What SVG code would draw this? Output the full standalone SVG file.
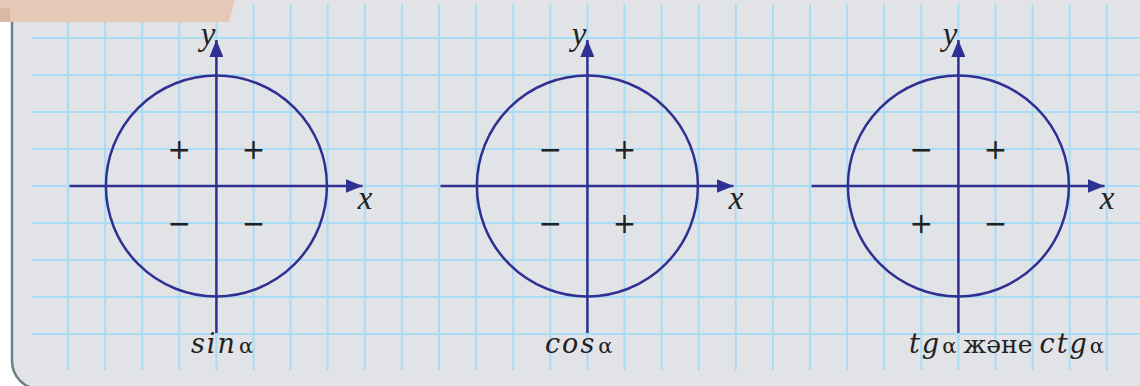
<svg xmlns="http://www.w3.org/2000/svg" width="1140" height="386" viewBox="0 0 1140 386">
<defs>
<style>
.grid{stroke:#a8dcf5;stroke-width:2;fill:none}
.ax{stroke:#2e3192;stroke-width:2.5;fill:none}
.circ{stroke:#2e3192;stroke-width:2.5;fill:none}
.sign{font-family:"DejaVu Sans",sans-serif;font-size:28px;fill:#222;text-anchor:middle}
.axl{font-family:"Liberation Serif",serif;font-style:italic;font-size:33px;fill:#222;text-anchor:middle}
.lbl{font-family:"DejaVu Serif",serif;font-size:25px;fill:#222}
.it{font-style:italic;font-size:27px;letter-spacing:2px}
.al{font-size:21px}
</style>
<marker id="arr" markerUnits="userSpaceOnUse" markerWidth="18" markerHeight="14" refX="17" refY="7" orient="auto" viewBox="0 0 18 14">
<path d="M0,0 L17,7 L0,14 z" fill="#2e3192"/>
</marker>
</defs>
<rect x="0" y="0" width="1140" height="386" fill="#ffffff"/>
<rect x="12" y="-20" width="1160" height="409" rx="28" fill="#e2e3e7" stroke="#6f8088" stroke-width="2.5"/>
<g id="grid" class="grid">
<path d="M32,38H1140M32,75H1140M32,112H1140M32,149H1140M32,186H1140M32,223H1140M32,260H1140M32,297H1140M32,334H1140"/>
<path d="M68,4V370M105.1,4V370M142.2,4V370M179.3,4V370M216.4,4V370M253.5,4V370M290.6,4V370M327.7,4V370M364.8,4V370M401.9,4V370M439,4V370M476.1,4V370M513.2,4V370M550.3,4V370M587.4,4V370M624.5,4V370M661.6,4V370M698.7,4V370M735.8,4V370M772.9,4V370M810,4V370M847.1,4V370M884.2,4V370M921.3,4V370M958.4,4V370M995.5,4V370M1032.6,4V370M1069.7,4V370M1106.8,4V370"/>
</g>
<g id="tab">
<polygon points="0,0 235,0 229,22 0,22" fill="#e6c9b7"/>
<polygon points="0,8 10,8 10,22 0,22" fill="#d9b8a6"/>
</g>
<g id="connectors">
<line class="ax" x1="69.5" y1="186" x2="362.5" y2="186" marker-end="url(#arr)"/>
<line class="ax" x1="216.4" y1="333" x2="216.4" y2="40" marker-end="url(#arr)"/>
<line class="ax" x1="440.5" y1="186" x2="733.5" y2="186" marker-end="url(#arr)"/>
<line class="ax" x1="587.4" y1="333" x2="587.4" y2="40" marker-end="url(#arr)"/>
<line class="ax" x1="811.5" y1="186" x2="1104.5" y2="186" marker-end="url(#arr)"/>
<line class="ax" x1="958.4" y1="333" x2="958.4" y2="40" marker-end="url(#arr)"/>
</g>
<g id="sin-diagram">
<circle class="circ" cx="216.4" cy="186" r="110.5"/>
<text class="axl" x="365" y="209">x</text>
<text class="axl" x="208" y="45">y</text>
<text class="sign" x="179.3" y="158.5">+</text>
<text class="sign" x="253.5" y="158.5">+</text>
<text class="sign" x="179.3" y="232.5">−</text>
<text class="sign" x="253.5" y="232.5">−</text>
<text class="lbl" x="191" y="353"><tspan class="it">sin</tspan><tspan class="al" dx="2">α</tspan></text>
</g>
<g id="cos-diagram">
<circle class="circ" cx="587.4" cy="186" r="110.5"/>
<text class="axl" x="736" y="209">x</text>
<text class="axl" x="579" y="45">y</text>
<text class="sign" x="550.3" y="158.5">−</text>
<text class="sign" x="624.5" y="158.5">+</text>
<text class="sign" x="550.3" y="232.5">−</text>
<text class="sign" x="624.5" y="232.5">+</text>
<text class="lbl" x="545" y="353"><tspan class="it">cos</tspan><tspan class="al" dx="2">α</tspan></text>
</g>
<g id="tg-diagram">
<circle class="circ" cx="958.4" cy="186" r="110.5"/>
<text class="axl" x="1107" y="209">x</text>
<text class="axl" x="950" y="45">y</text>
<text class="sign" x="921.3" y="158.5">−</text>
<text class="sign" x="995.5" y="158.5">+</text>
<text class="sign" x="921.3" y="232.5">+</text>
<text class="sign" x="995.5" y="232.5">−</text>
<text class="lbl" x="909" y="353"><tspan class="it">tg</tspan><tspan class="al" dx="1">α</tspan><tspan dx="7">және</tspan><tspan class="it" dx="7">ctg</tspan><tspan class="al" dx="1">α</tspan></text>
</g>
</svg>
